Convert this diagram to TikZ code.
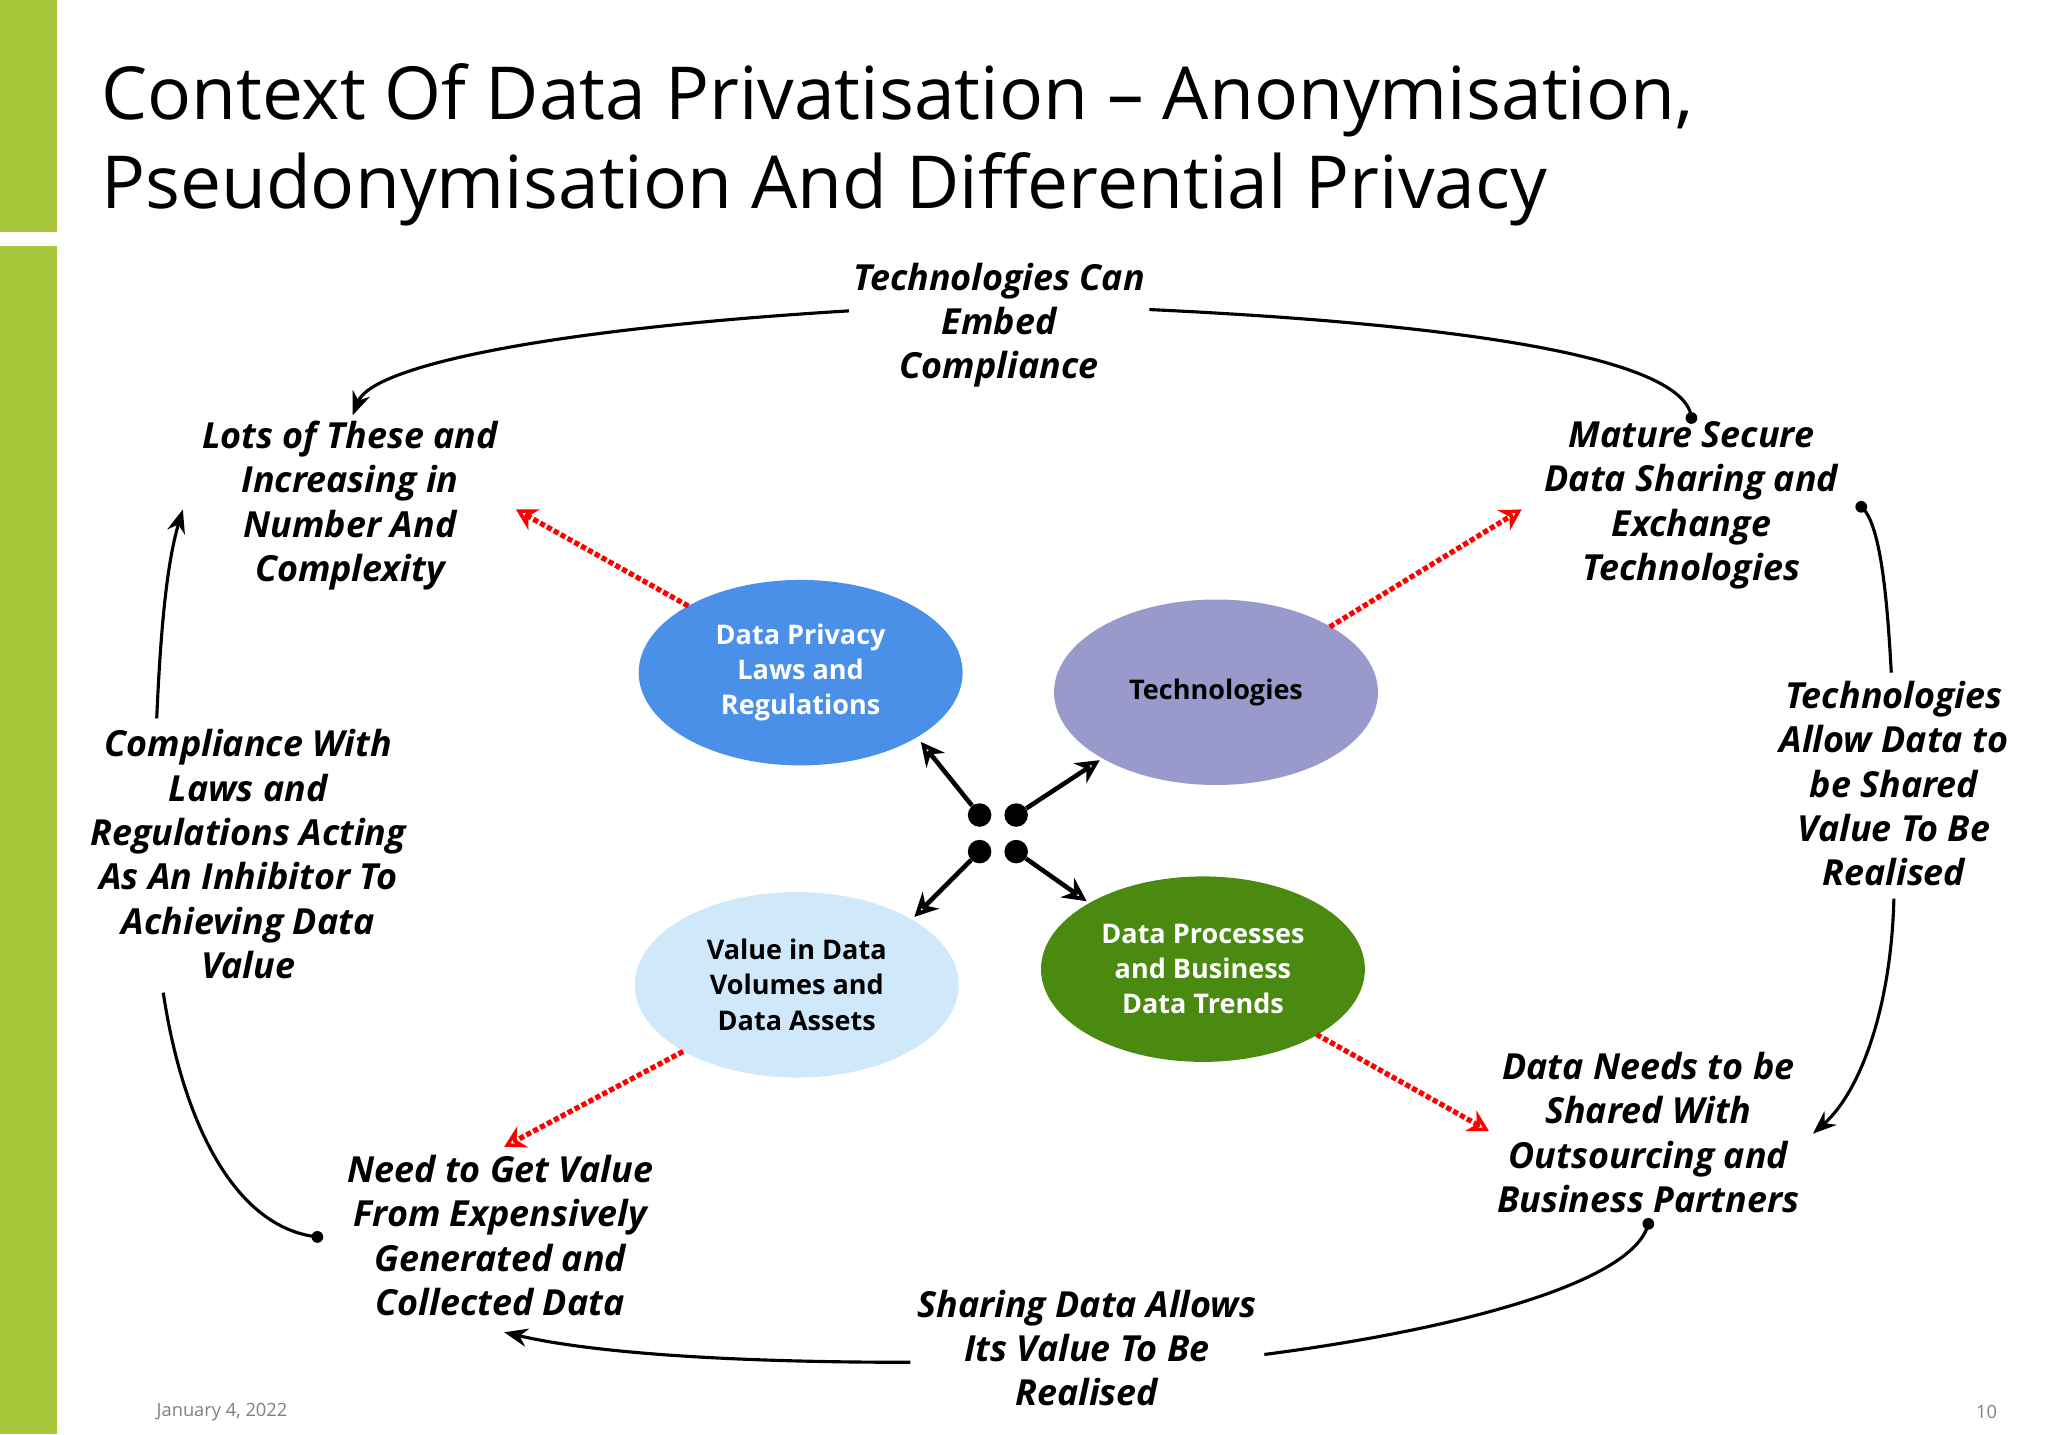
\documentclass[tikz,border=0pt]{standalone}
\usepackage{fontspec}
\setmainfont{Open Sans}
\usetikzlibrary{arrows.meta,shapes.geometric}
\definecolor{bar}{HTML}{A8C639}
\definecolor{cdp}{RGB}{74,143,232}
\definecolor{cte}{RGB}{153,153,204}
\definecolor{cva}{RGB}{207,233,251}
\definecolor{cpr}{RGB}{74,138,16}
\tikzset{
 lbl/.style={align=center,font=\fontsize{27.5}{34}\selectfont\bfseries\itshape},
 ell/.style={ellipse,minimum width=248pt,minimum height=142pt,align=center,font=\fontsize{20.7}{27}\selectfont\bfseries},
 cyc/.style={line width=2.4pt},
 blk/.style={line width=3.5pt,-{Stealth[length=18pt,width=18pt,open]}},
 reddot/.style={draw=red,line width=4pt,dotted,-{Stealth[length=16pt,width=18pt,open]}},
 dotc/.style={circle,fill=black,inner sep=0pt,minimum size=9pt},
 bigdot/.style={circle,fill=black,inner sep=0pt,minimum size=18pt},
}
\begin{document}
\begin{tikzpicture}[x=1pt,y=-1pt]
\useasboundingbox[fill=white] (0,0) rectangle (1568,1098);
\fill[bar] (0,0) rectangle (44,178);
\fill[bar] (0,188) rectangle (44,1098);
\node[anchor=west,align=left,font=\fontsize{56}{68}\selectfont] (title) at (74,111) {Context Of Data Privatisation -- Anonymisation,\\Pseudonymisation And Differential Privacy};
\node[font=\fontsize{14}{18}\selectfont,text=gray] (date) at (170,1081) {January 4, 2022};
\node[font=\fontsize{14}{18}\selectfont,text=gray] (pg) at (1521,1081) {10};

\node[ell,fill=cdp,text=white] (dp) at (613,515) {Data Privacy\\Laws and\\Regulations};
\node[ell,fill=cte] (te) at (931,530) {Technologies};
\node[ell,fill=cva] (va) at (610,754) {Value in Data\\Volumes and\\Data Assets};
\node[ell,fill=cpr,text=white] (pr) at (921,742) {Data Processes\\and Business\\Data Trends};

\node[bigdot] (d1) at (750,624) {};
\node[bigdot] (d2) at (778,624) {};
\node[bigdot] (d3) at (750,652) {};
\node[bigdot] (d4) at (778,652) {};
\coordinate (e1) at (705,568); \coordinate (e2) at (842,582);
\coordinate (e3) at (700,702); \coordinate (e4) at (832,690);
\draw[blk] (d1) -- (e1); \draw[blk] (d2) -- (e2);
\draw[blk] (d3) -- (e3); \draw[blk] (d4) -- (e4);

\coordinate (r1s) at (527,464); \coordinate (r1e) at (395,390);
\coordinate (r2s) at (1018,480); \coordinate (r2e) at (1165,390);
\coordinate (r3s) at (523,805); \coordinate (r3e) at (386,878);
\coordinate (r4s) at (1008,792); \coordinate (r4e) at (1140,866);
\draw[reddot] (r1s) -- (r1e); \draw[reddot] (r2s) -- (r2e);
\draw[reddot] (r3s) -- (r3e); \draw[reddot] (r4s) -- (r4e);

\node[lbl] (ltop) at (765,249) {Technologies Can\\Embed\\Compliance};
\node[lbl] (lnw) at (268,387) {Lots of These and\\Increasing in\\Number And\\Complexity};
\node[lbl] (lne) at (1295,387) {Mature Secure\\Data Sharing and\\Exchange\\Technologies};
\node[lbl] (le) at (1450,600) {Technologies\\Allow Data to\\be Shared\\Value To Be\\Realised};
\node[lbl] (lse) at (1262,867) {Data Needs to be\\Shared With\\Outsourcing and\\Business Partners};
\node[lbl] (lbot) at (832,1032) {Sharing Data Allows\\Its Value To Be\\Realised};
\node[lbl] (lsw) at (383,946) {Need to Get Value\\From Expensively\\Generated and\\Collected Data};
\node[lbl] (lw) at (190,654) {Compliance With\\Laws and\\Regulations Acting\\As An Inhibitor To\\Achieving Data\\Value};

\node[dotc] (c1) at (1295,320) {};
\coordinate (c1a) at (880,237); \coordinate (c1b) at (650,238); \coordinate (c1e) at (270,318);
\draw[cyc] (c1.center) .. controls (1290,265) and (1050,245) .. (c1a);
\draw[cyc,-{Stealth[length=18pt,width=14pt]}] (c1b) .. controls (420,252) and (285,280) .. (c1e);
\node[dotc] (c2) at (1425,388) {};
\coordinate (c2a) at (1448,515); \coordinate (c2b) at (1450,688); \coordinate (c2e) at (1388,868);
\draw[cyc] (c2.center) .. controls (1440,400) and (1445,460) .. (c2a);
\draw[cyc,-{Stealth[length=18pt,width=14pt]}] (c2b) .. controls (1448,770) and (1425,835) .. (c2e);
\node[dotc] (c3) at (1262,937) {};
\coordinate (c3a) at (968,1037); \coordinate (c3b) at (697,1043); \coordinate (c3e) at (386,1020);
\draw[cyc] (c3.center) .. controls (1250,985) and (1100,1020) .. (c3a);
\draw[cyc,-{Stealth[length=18pt,width=14pt]}] (c3b) .. controls (550,1043) and (450,1035) .. (c3e);
\node[dotc] (c4) at (243,947) {};
\coordinate (c4a) at (125,760); \coordinate (c4b) at (120,550); \coordinate (c4e) at (140,390);
\draw[cyc] (c4.center) .. controls (180,940) and (140,860) .. (c4a);
\draw[cyc,-{Stealth[length=18pt,width=14pt]}] (c4b) .. controls (123,480) and (128,430) .. (c4e);
\end{tikzpicture}
\end{document}
